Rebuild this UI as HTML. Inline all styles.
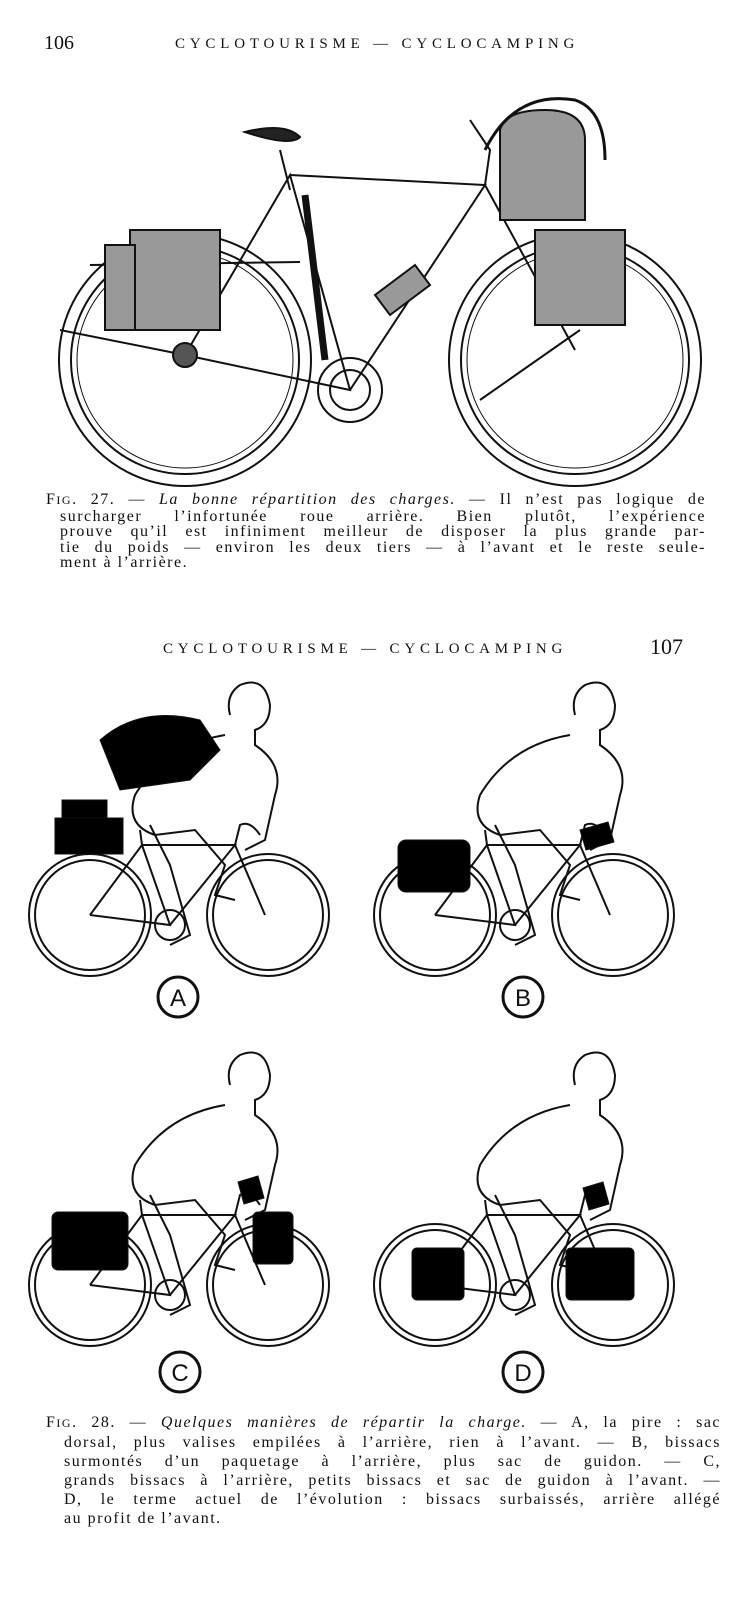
<!DOCTYPE html>
<html><head><meta charset="utf-8">
<style>
html,body{margin:0;padding:0;background:#fff;}
body{width:756px;height:1600px;position:relative;overflow:hidden;font-family:"Liberation Serif",serif;color:#111;}
.t{position:absolute;white-space:nowrap;}
.cap{position:absolute;font-size:16px;}
.cap div{white-space:nowrap;letter-spacing:1.5px;text-align:justify;text-align-last:justify;box-sizing:border-box;}
.cap div.l{text-align-last:left;}
</style></head><body>
<div class="t" style="left:44px;top:32px;font-size:20px;">106</div>
<div class="t" style="left:175px;top:36px;font-size:15px;letter-spacing:4.8px;">CYCLOTOURISME — CYCLOCAMPING</div>
<div class="t" style="left:163px;top:641px;font-size:15px;letter-spacing:4.8px;">CYCLOTOURISME — CYCLOCAMPING</div>
<div class="t" style="left:650px;top:634px;font-size:22px;">107</div>

<svg width="756" height="1600" style="position:absolute;left:0;top:0" fill="none" stroke="#111">
<g stroke-width="2">
<circle cx="185" cy="360" r="126"/><circle cx="185" cy="360" r="114"/><circle cx="185" cy="360" r="108" stroke-width="1"/>
<circle cx="575" cy="360" r="126"/><circle cx="575" cy="360" r="114"/><circle cx="575" cy="360" r="108" stroke-width="1"/>
<path d="M185 355 L350 390 L290 175 L185 355 M290 175 L485 185 L350 390 M485 185 L575 350 M280 150 L290 190 M485 185 L490 150 L470 120"/>
<path d="M245 132 q40 -10 55 5 q-10 10 -55 -5z" fill="#222"/>
<circle cx="350" cy="390" r="32"/><circle cx="350" cy="390" r="20"/>
<path d="M90 265 L300 262 M60 330 L185 355 M480 400 L580 330"/>
<circle cx="185" cy="355" r="12" fill="#555"/>
<path d="M305 195 L325 360" stroke-width="7"/>
</g>
<g fill="#999" stroke="#111" stroke-width="2">
<path d="M130 230 h90 v100 h-90z"/><path d="M105 245 h30 v85 h-30z"/>
<path d="M500 130 q5 -20 45 -20 q40 0 40 30 v80 h-85z"/>
<path d="M535 230 h90 v95 h-90z"/>
<path d="M375 295 l40 -30 l15 20 l-40 30z"/>
</g>
<path d="M485 150 q30 -60 90 -50 q30 10 30 60" stroke-width="3"/>

<defs>
<g id="bk" stroke-width="2">
<circle cx="0" cy="0" r="61"/><circle cx="0" cy="0" r="55"/>
<circle cx="178" cy="0" r="61"/><circle cx="178" cy="0" r="55"/>
<path d="M0 0 L80 10 L52 -70 L0 0 M52 -70 L145 -70 L80 10 M145 -70 L175 0 M50 -85 L52 -70 M145 -70 L150 -90 q10 -5 20 10"/>
<circle cx="80" cy="10" r="15"/>
<path d="M140 -200 q-5 -20 10 -30 q25 -10 30 20 q0 20 -15 25 l0 15 q30 20 20 50 l-10 45 l-20 10 M135 -180 q-60 10 -90 60 q-10 30 20 40 l40 -5 l30 35 l-10 30 l20 5 M60 -90 l20 40 l20 70 l-20 10"/>
</g>
</defs>
<use href="#bk" x="90" y="915"/>
<use href="#bk" x="435" y="915"/>
<use href="#bk" x="90" y="1285"/>
<use href="#bk" x="435" y="1285"/>
<path d="M100 740 q40 -35 100 -20 l20 30 l-30 30 l-70 10z" fill="#000"/>
<rect x="62" y="800" width="45" height="22" fill="#000"/>
<rect x="55" y="818" width="68" height="36" fill="#000"/>
<rect x="398" y="840" width="72" height="52" rx="8" fill="#000"/>
<path d="M580 830 l28 -8 l6 20 l-28 8z" fill="#000"/>
<rect x="52" y="1212" width="76" height="58" rx="6" fill="#000"/>
<rect x="253" y="1212" width="40" height="52" rx="5" fill="#000"/>
<path d="M238 1182 l20 -6 l6 22 l-20 6z" fill="#000"/>
<rect x="412" y="1248" width="52" height="52" rx="5" fill="#000"/>
<rect x="566" y="1248" width="68" height="52" rx="5" fill="#000"/>
<path d="M583 1188 l20 -6 l6 22 l-20 6z" fill="#000"/>
<g stroke-width="3">
<circle cx="178" cy="997" r="20"/><circle cx="523" cy="997" r="20"/>
<circle cx="180" cy="1372" r="20"/><circle cx="523" cy="1372" r="20"/>
</g>
<g fill="#111" stroke="none" font-family="Liberation Sans, sans-serif" font-size="24" text-anchor="middle">
<text x="178" y="1006">A</text><text x="523" y="1006">B</text>
<text x="180" y="1381">C</text><text x="523" y="1381">D</text>
</g>
</svg>

<div class="cap" style="left:46px;top:492px;width:660px;line-height:15.5px;">
<div style="width:660px">F<span style="font-size:12px">IG</span>. 27. — <i>La bonne répartition des charges.</i> — Il n’est pas logique de</div>
<div style="margin-left:14px;width:646px">surcharger l’infortunée roue arrière. Bien plutôt, l’expérience</div>
<div style="margin-left:14px;width:646px">prouve qu’il est infiniment meilleur de disposer la plus grande par-</div>
<div style="margin-left:14px;width:646px">tie du poids — environ les deux tiers — à l’avant et le reste seule-</div>
<div class="l" style="margin-left:14px;width:646px">ment à l’arrière.</div>
</div>

<div class="cap" style="left:46px;top:1413px;width:675px;line-height:19px;">
<div style="width:675px">F<span style="font-size:12px">IG</span>. 28. — <i>Quelques manières de répartir la charge.</i> — A, la pire : sac</div>
<div style="margin-left:18px;width:657px">dorsal, plus valises empilées à l’arrière, rien à l’avant. — B, bissacs</div>
<div style="margin-left:18px;width:657px">surmontés d’un paquetage à l’arrière, plus sac de guidon. — C,</div>
<div style="margin-left:18px;width:657px">grands bissacs à l’arrière, petits bissacs et sac de guidon à l’avant. —</div>
<div style="margin-left:18px;width:657px">D, le terme actuel de l’évolution : bissacs surbaissés, arrière allégé</div>
<div class="l" style="margin-left:18px;width:657px">au profit de l’avant.</div>
</div>
</body></html>
